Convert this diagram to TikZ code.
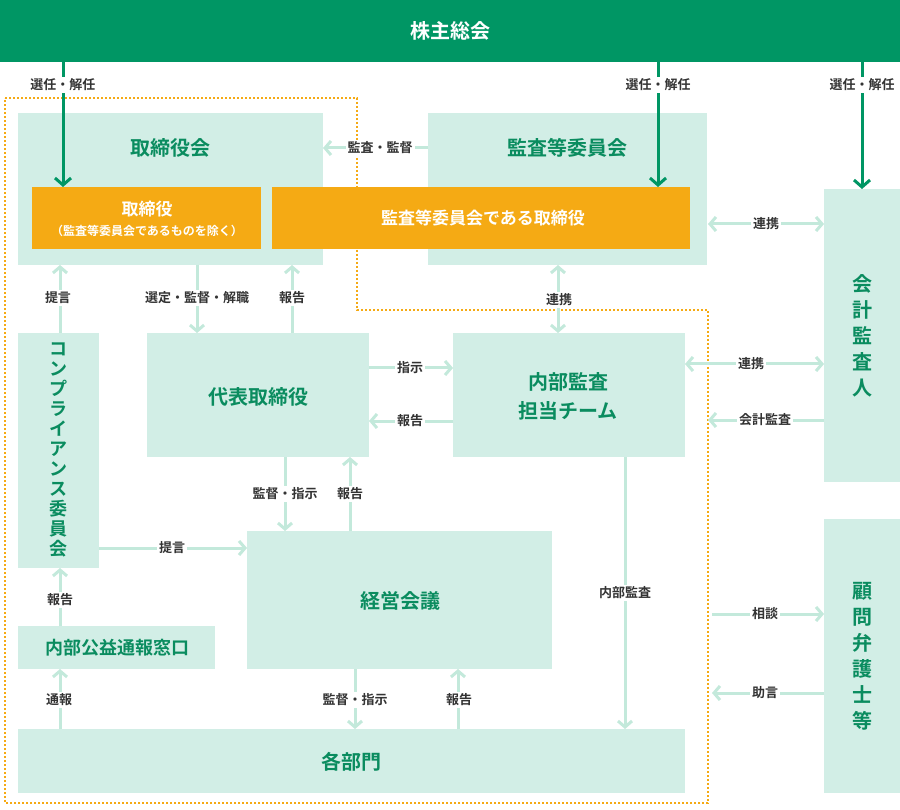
\documentclass[tikz,border=0pt]{standalone}
\usepackage{fontspec}
\setmainfont{Noto Sans CJK JP}[BoldFont={Noto Sans CJK JP Bold}]
\usetikzlibrary{arrows.meta}
\definecolor{dg}{HTML}{009664}
\definecolor{mint}{HTML}{D2EEE6}
\definecolor{arr}{HTML}{C3E9DB}
\definecolor{org}{HTML}{F5AA14}
\definecolor{txt}{HTML}{333333}
\definecolor{gt}{HTML}{0A8C5F}
\begin{document}
\begin{tikzpicture}[x=1pt,y=-1pt,
 box/.style={fill=mint,draw=none},
 obox/.style={fill=org,draw=none},
 ttl/.style={font=\bfseries\fontsize{20}{24}\selectfont,text=gt,align=center},
 lab/.style={fill=white,font=\bfseries\fontsize{13}{15}\selectfont,text=txt,inner sep=2pt},
 ar/.style={draw=arr,line width=3pt,-{Straight Barb[length=6pt,width=14pt,line width=3pt]}},
 dar/.style={draw=arr,line width=3pt,{Straight Barb[length=6pt,width=14pt,line width=3pt]}-{Straight Barb[length=6pt,width=14pt,line width=3pt]}},
 gar/.style={draw=dg,line width=3pt,-{Straight Barb[length=7pt,width=16pt,line width=3pt]}}]
\useasboundingbox (0,0) rectangle (900,810);
\fill[white] (0,0) rectangle (900,810);
\fill[dg] (0,0) rectangle (900,62);
\node[font=\bfseries\fontsize{20}{24}\selectfont,text=white] (gm) at (450,31) {株主総会};
\draw[org,line width=2pt,dotted] (5,98) -- (357,98) -- (357,310) -- (708,310) -- (708,803) -- (5,803) -- cycle;
% boxes
\fill[box] (18,113) rectangle (323,265);
\node[ttl] (bd) at (170,148) {取締役会};
\fill[box] (428,113) rectangle (707,265);
\node[ttl] (ac) at (567,148) {監査等委員会};
\fill[obox] (32,187) rectangle (261,249);
\node[font=\bfseries\fontsize{17}{20}\selectfont,text=white] (dir) at (147,209) {取締役};
\node[font=\bfseries\fontsize{12}{14}\selectfont,text=white] (dirs) at (147,231) {（監査等委員会であるものを除く）};
\fill[obox] (272,187) rectangle (690,249);
\node[font=\bfseries\fontsize{17}{20}\selectfont,text=white] (acd) at (483,218) {監査等委員会である取締役};
\fill[box] (824,189) rectangle (900,482);
\node[ttl,font=\bfseries\fontsize{20}{26}\selectfont] (aud) at (862,336) {会\\計\\監\\査\\人};
\fill[box] (824,519) rectangle (900,793);
\node[ttl,font=\bfseries\fontsize{20}{26}\selectfont] (law) at (862,656) {顧\\問\\弁\\護\\士\\等};
\fill[box] (18,333) rectangle (99,568);
\node[ttl,font=\bfseries\fontsize{18}{20}\selectfont] (cc) at (58,450) {コ\\ン\\プ\\ラ\\イ\\ア\\ン\\ス\\委\\員\\会};
\fill[box] (147,333) rectangle (369,457);
\node[ttl] (ceo) at (258,397) {代表取締役};
\fill[box] (453,333) rectangle (685,457);
\node[ttl,font=\bfseries\fontsize{20}{29}\selectfont] (ia) at (568,396) {内部監査\\担当チーム};
\fill[box] (247,531) rectangle (552,669);
\node[ttl] (mc) at (400,601) {経営会議};
\fill[box] (18,626) rectangle (215,669);
\node[ttl,font=\bfseries\fontsize{18}{20}\selectfont] (wb) at (117,648) {内部公益通報窓口};
\fill[box] (18,729) rectangle (685,793);
\node[ttl] (dp) at (351,762) {各部門};
% green arrows
\draw[gar] (63,62) -- (63,187);
\draw[gar] (658,62) -- (658,187);
\draw[gar] (862,62) -- (862,189);
\foreach \x in {63,658,862}{\node[lab] at (\x,85) {選任・解任};}
% connectors
\draw[ar] (428,148) -- (323,148); \node[lab] at (380,148) {監査・監督};
\draw[dar] (708,224) -- (824,224); \node[lab] at (766,224) {連携};
\draw[ar] (60,333) -- (60,265); \node[lab] at (58,298) {提言};
\draw[ar] (197,265) -- (197,333); \node[lab] at (197,298) {選定・監督・解職};
\draw[ar] (292,333) -- (292,265); \node[lab] at (292,298) {報告};
\draw[dar] (558,265) -- (558,333); \node[lab] at (559,300) {連携};
\draw[ar] (369,368) -- (453,368); \node[lab] at (410,368) {指示};
\draw[ar] (453,421) -- (369,421); \node[lab] at (410,421) {報告};
\draw[dar] (685,364) -- (824,364); \node[lab] at (751,364) {連携};
\draw[ar] (824,420) -- (708,420); \node[lab] at (765,420) {会計監査};
\draw[ar] (285,457) -- (285,531); \node[lab] at (285,494) {監督・指示};
\draw[ar] (350,531) -- (350,457); \node[lab] at (350,494) {報告};
\draw[ar] (99,548) -- (247,548); \node[lab] at (172,548) {提言};
\draw[ar] (60,626) -- (60,568); \node[lab] at (60,600) {報告};
\draw[ar] (625,457) -- (625,729); \node[lab] at (625,593) {内部監査};
\draw[ar] (712,614) -- (824,614); \node[lab] at (765,614) {相談};
\draw[ar] (824,693) -- (712,693); \node[lab] at (765,693) {助言};
\draw[ar] (60,729) -- (60,669); \node[lab] at (59,700) {通報};
\draw[ar] (355,669) -- (355,729); \node[lab] at (355,700) {監督・指示};
\draw[ar] (458,729) -- (458,669); \node[lab] at (459,700) {報告};
\end{tikzpicture}
\end{document}
